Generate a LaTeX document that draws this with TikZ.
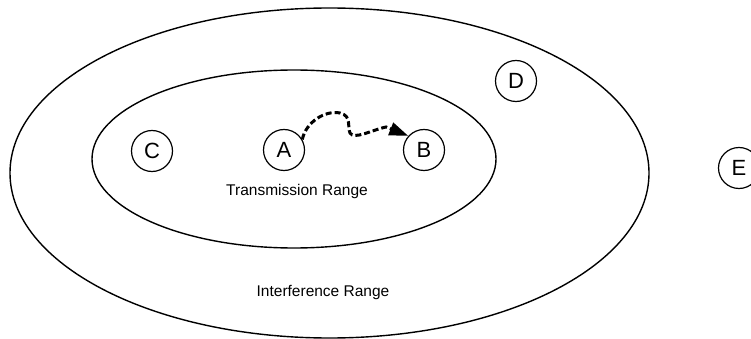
\documentclass[tikz,border=0pt]{standalone}
\usepackage{fontspec}
\setmainfont{Liberation Sans}
\usetikzlibrary{arrows.meta}
\begin{document}
\begin{tikzpicture}[x=1pt,y=-1pt,
  station/.style={draw,circle,line width=1.2pt,minimum size=41pt,inner sep=0pt,font=\fontsize{22}{22}\selectfont},
  rangeline/.style={draw,line width=1.4pt},
  rangelabel/.style={font=\fontsize{15.5}{16}\selectfont},
  flow/.style={line width=3pt,dash pattern=on 6pt off 3pt,-{Triangle[length=19pt,width=13pt]}}]
\useasboundingbox (0,0) rectangle (751,339);
\draw[rangeline] (329.5,173) ellipse [x radius=319.5, y radius=165];
\draw[rangeline] (294,159) ellipse [x radius=202, y radius=89];
\node[station] (C) at (152,151) {C};
\node[station] (A) at (284,150) {A};
\node[station] (B) at (424,150) {B};
\node[station] (D) at (516,81) {D};
\node[station] (E) at (739,168) {E};
\node[rangelabel] (tr) at (297,191) {Transmission Range};
\node[rangelabel] (ir) at (323,292) {Interference Range};
\draw[flow] (A.30) .. controls (306,122) and (325,110) .. (340,113)
  .. controls (352,116) and (347,126) .. (350,133)
  .. controls (354,140) and (372,130) .. (386,127) -- (B.138);
\end{tikzpicture}
\end{document}
